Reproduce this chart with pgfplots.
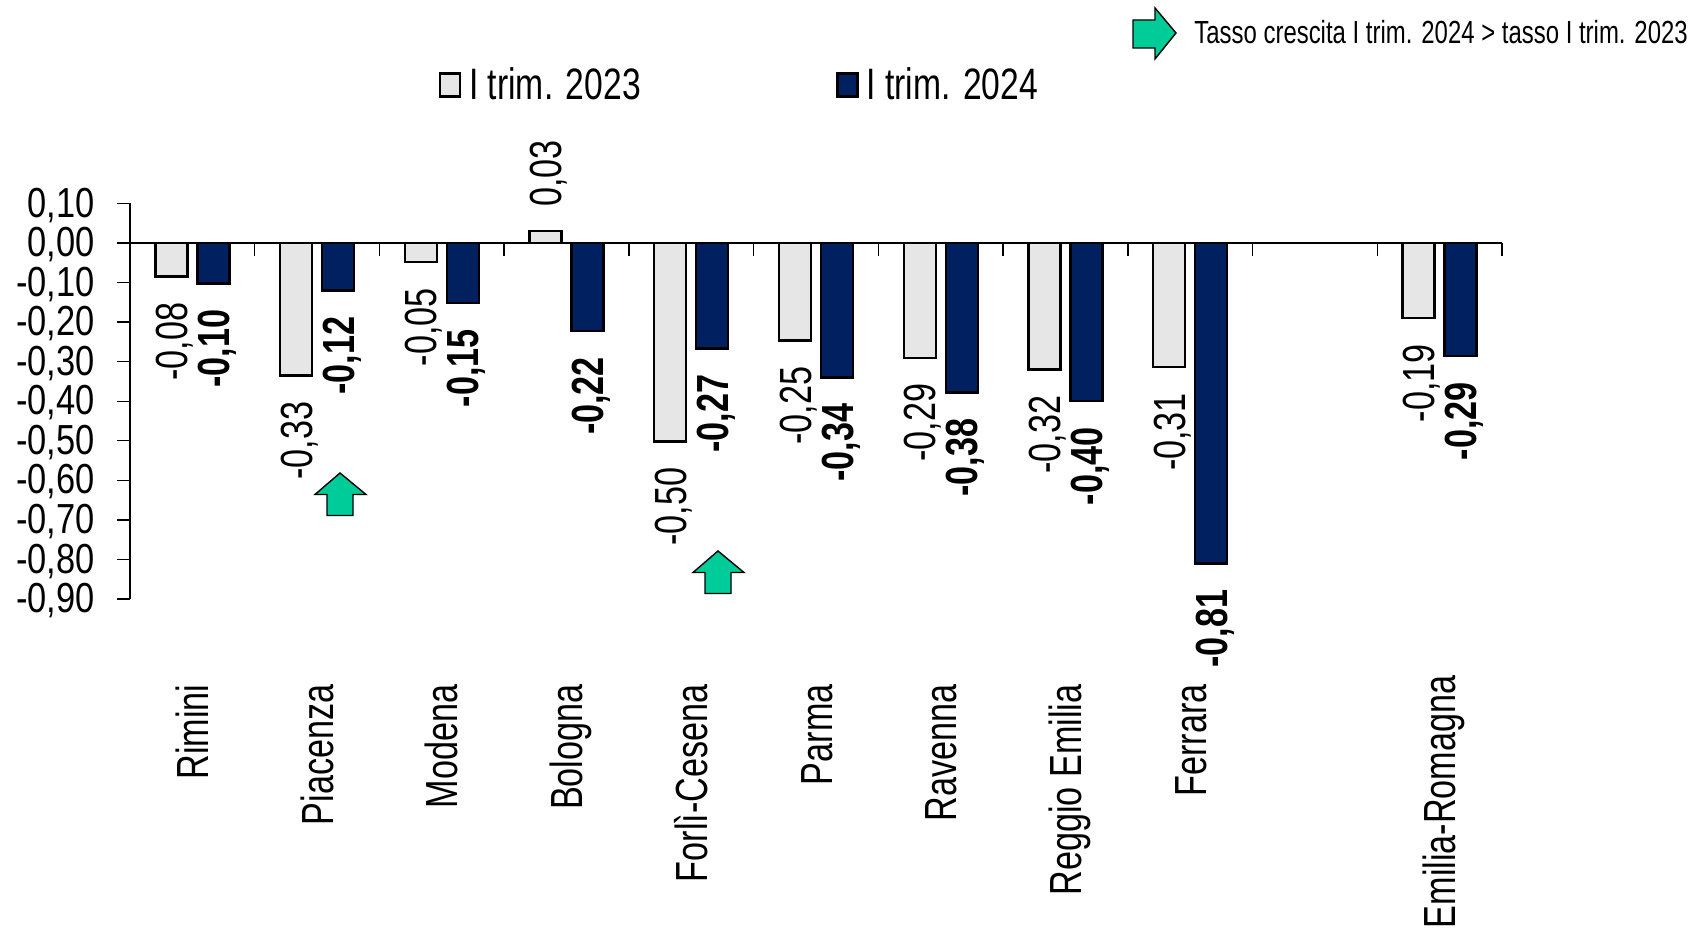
\documentclass[border=0pt]{standalone}
\usepackage{fontspec}
\usepackage{pgfplots}
\pgfplotsset{compat=1.18}
\newfontfamily\fTick[FakeStretch=0.82]{Liberation Sans}
\newfontfamily\fRot[FakeStretch=0.76]{Liberation Sans}
\newfontfamily\fLeg[FakeStretch=0.765]{Liberation Sans}
\newfontfamily\fTop[FakeStretch=0.748]{Liberation Sans}
\definecolor{barlight}{HTML}{E6E6E6}
\definecolor{barnavy}{HTML}{002060}
\definecolor{arrowgreen}{HTML}{00CC99}
\pgfkeys{/pgf/number format/.cd, use comma, fixed, fixed zerofill, precision=2, assume math mode=true}
\tikzset{
  nlab/.style={font=\fontsize{22.5}{23}\fRot, rotate=90, anchor=east,
     inner sep=0pt, inner xsep=12.5pt, text height=16.1pt, text depth=0pt, black},
}
\begin{document}
\begin{tikzpicture}
\useasboundingbox (0,0) rectangle (852pt,464.5pt);
\begin{axis}[
  at={(65pt,165pt)}, anchor=south west,
  scale only axis, width=686pt, height=197.75pt,
  xmin=0, xmax=11, ymin=-0.9, ymax=0.1,
  axis y line=left, axis x line=middle,
  axis line style={-, line width=0.7pt},
  clip=false,
  tick align=outside,
  tick style={black, line width=0.7pt},
  major tick length=6.5pt, minor tick length=6.5pt,
  ytick={-0.9,-0.8,-0.7,-0.6,-0.5,-0.4,-0.3,-0.2,-0.1,0,0.1},
  yticklabel style={font=\fontsize{21}{22}\fTick, inner sep=0pt, xshift=-11pt, yshift=-0.8pt},
  xtick={0.5,1.5,2.5,3.5,4.5,5.5,6.5,7.5,8.5,10.5},
  xticklabels={Rimini,Piacenza,Modena,Bologna,Forlì-Cesena,Parma,Ravenna,Reggio Emilia,Ferrara,Emilia-Romagna\kern-4.5pt},
  minor xtick={0,1,2,3,4,5,6,7,8,9,10,11},
  major x tick style={draw=none},
  xticklabel style={font=\fontsize{22.5}{23}\fRot, rotate=90, anchor=east, inner sep=0pt, text height=16.1pt, text depth=0pt},
  xticklabel shift=214pt,
  point meta=explicit,
  legend style={at={(0.445,1.3)}, anchor=center, draw=none, fill=none, legend columns=2,
     font=\fontsize{22}{23}\fLeg, /tikz/every even column/.append style={column sep=95.8pt}},
  legend cell align=left,
]
\addplot[ybar, bar width=16pt, bar shift=-10.5pt, draw=black, fill=barlight, line width=1.2pt,
  visualization depends on={ifthenelse(y>0,58.6,0) \as \nudge},
  nodes near coords,
  every node near coord/.style={xshift=-10.5pt, yshift=\nudge pt, nlab},
  legend image code/.code={\draw[draw=black, fill=barlight, line width=1.2pt] (0pt,-5.75pt) rectangle (10pt,5.75pt); \path[draw=none,fill=none] (0pt,0pt)--(12.5pt,0pt);}]
 coordinates {(0.5,-0.085)[-0.08] (1.5,-0.335)[-0.33] (2.5,-0.048)[-0.05] (3.5,0.03)[0.03] (4.5,-0.502)[-0.50] (5.5,-0.246)[-0.25] (6.5,-0.29)[-0.29] (7.5,-0.32)[-0.32] (8.5,-0.313)[-0.31] (10.5,-0.19)[-0.19]};
\addlegendentry{I trim. 2023}
\addplot[ybar, bar width=16pt, bar shift=10.5pt, draw=black, fill=barnavy, line width=1.2pt,
  nodes near coords,
  every node near coord/.style={xshift=10.5pt, nlab, font=\fontsize{22.5}{23}\fRot\bfseries},
  legend image code/.code={\draw[draw=black, fill=barnavy, line width=1.2pt] (0pt,-5.75pt) rectangle (10pt,5.75pt); \path[draw=none,fill=none] (0pt,0pt)--(12.5pt,0pt);}]
 coordinates {(0.5,-0.102)[-0.10] (1.5,-0.12)[-0.12] (2.5,-0.152)[-0.15] (3.5,-0.222)[-0.22] (4.5,-0.267)[-0.27] (5.5,-0.34)[-0.34] (6.5,-0.378)[-0.38] (7.5,-0.40)[-0.40] (8.5,-0.81)[-0.81] (10.5,-0.286)[-0.29]};
\addlegendentry{I trim. 2024}
\end{axis}
\begin{scope}[x=0.5pt,y=-0.5pt,shift={(0,-929)}]
\draw[fill=arrowgreen, line width=0.7pt] (340,473)--(366,494.5)--(353,494.5)--(353,515.5)--(327,515.5)--(327,494.5)--(315,494.5)--cycle;
\draw[fill=arrowgreen, line width=0.7pt] (718,551)--(744,572.5)--(731,572.5)--(731,593.5)--(705,593.5)--(705,572.5)--(693,572.5)--cycle;
\draw[fill=arrowgreen, line width=0.7pt] (1133,20)--(1155,20)--(1155,8)--(1176,33)--(1155,59)--(1155,48)--(1133,48)--cycle;
\node[anchor=west, inner sep=0pt, font=\fontsize{16}{17}\fTop] at (1194,32) {Tasso crescita I trim. 2024 > tasso I trim. 2023};
\end{scope}
\end{tikzpicture}
\end{document}
